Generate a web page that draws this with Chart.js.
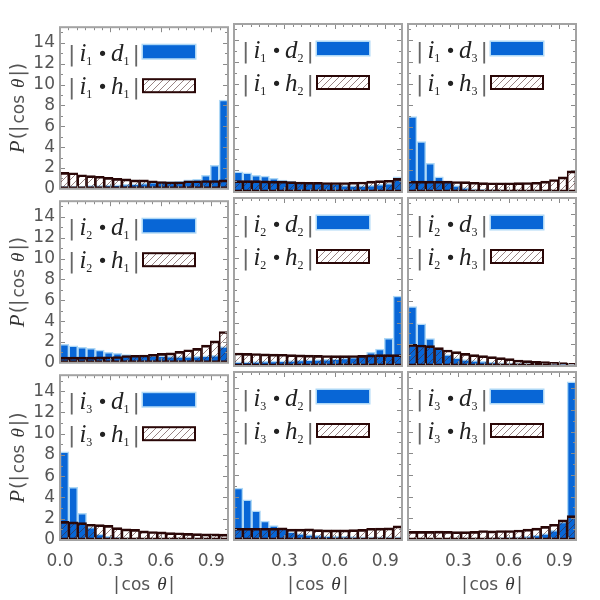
<!DOCTYPE html>
<html>
<head>
<meta charset="utf-8">
<script src="https://cdn.jsdelivr.net/npm/chart.js@4.4.1/dist/chart.umd.min.js"></script>
<style>
  html, body { margin: 0; padding: 0; background: #fff; }
  #wrap { position: relative; width: 600px; height: 600px; overflow: hidden; }
  #wrap canvas { position: absolute; }
</style>
</head>
<body>
<div id="wrap"></div>
<script>
// bin edges of |cos theta| (19 bins over 0..1)
const binEdges = [0.000, 0.053, 0.105, 0.158, 0.211, 0.263, 0.316, 0.368, 0.421, 0.474,
                  0.526, 0.579, 0.632, 0.684, 0.737, 0.789, 0.842, 0.895, 0.947, 1.000];
const xTicks = [0.0, 0.3, 0.6, 0.9];
const yTicks = [0, 2, 4, 6, 8, 10, 12, 14];

// P(|i_n . d_m|) (blue) and P(|i_n . h_m|) (hatched)
const i1d1 = [0.25, 0.25, 0.27, 0.3, 0.32, 0.35, 0.38, 0.42, 0.48, 0.52, 0.62, 0.66, 0.7, 0.72, 0.85, 0.9, 1.3, 2.25, 8.5];
const i1h1 = [1.57, 1.54, 1.35, 1.26, 1.2, 1.1, 1.0, 0.95, 0.86, 0.86, 0.77, 0.7, 0.68, 0.68, 0.77, 0.77, 0.8, 0.8, 0.86];
const i1d2 = [1.85, 1.78, 1.54, 1.48, 1.25, 1.1, 1.0, 0.9, 0.88, 0.85, 0.8, 0.75, 0.62, 0.6, 0.6, 0.62, 0.7, 0.8, 1.4];
const i1h2 = [1.05, 1.05, 1.05, 1.03, 1.0, 1.0, 0.95, 0.92, 0.9, 0.9, 0.88, 0.88, 0.88, 0.9, 0.92, 1.0, 1.05, 1.08, 1.25];
const i1d3 = [6.95, 4.65, 2.65, 1.4, 0.95, 0.6, 0.4, 0.3, 0.25, 0.22, 0.2, 0.18, 0.17, 0.15, 0.15, 0.14, 0.13, 0.12, 0.12];
const i1h3 = [1.0, 1.0, 1.0, 1.0, 1.0, 0.97, 0.95, 0.9, 0.87, 0.85, 0.85, 0.85, 0.87, 0.88, 0.9, 1.0, 1.15, 1.4, 1.95];

const i2d1 = [1.78, 1.63, 1.48, 1.38, 1.23, 1.01, 0.92, 0.78, 0.75, 0.72, 0.7, 0.66, 0.62, 0.6, 0.6, 0.62, 0.68, 0.72, 1.55];
const i2h1 = [0.55, 0.55, 0.55, 0.55, 0.57, 0.58, 0.6, 0.7, 0.72, 0.75, 0.82, 0.9, 0.95, 1.1, 1.25, 1.38, 1.7, 2.1, 3.0];
const i2d2 = [0.38, 0.38, 0.4, 0.42, 0.45, 0.48, 0.5, 0.55, 0.58, 0.6, 0.62, 0.65, 0.72, 0.8, 0.95, 1.25, 1.57, 2.55, 6.45];
const i2h2 = [1.2, 1.17, 1.15, 1.12, 1.1, 1.08, 1.05, 1.02, 1.0, 0.98, 0.97, 0.96, 0.96, 0.97, 0.98, 1.02, 1.05, 1.05, 1.05];
const i2d3 = [5.48, 3.88, 2.52, 1.6, 1.05, 0.75, 0.6, 0.5, 0.42, 0.36, 0.3, 0.27, 0.24, 0.22, 0.2, 0.18, 0.17, 0.15, 0.14];
const i2h3 = [2.0, 1.94, 1.88, 1.69, 1.48, 1.32, 1.17, 1.05, 0.95, 0.86, 0.77, 0.68, 0.55, 0.49, 0.43, 0.4, 0.34, 0.31, 0.25];

const i3d1 = [8.3, 4.95, 2.5, 1.2, 0.55, 0.35, 0.25, 0.2, 0.18, 0.15, 0.13, 0.12, 0.1, 0.1, 0.1, 0.09, 0.09, 0.08, 0.08];
const i3h1 = [1.75, 1.7, 1.63, 1.48, 1.45, 1.38, 1.17, 1.05, 1.0, 0.86, 0.8, 0.77, 0.7, 0.68, 0.62, 0.6, 0.58, 0.57, 0.56];
const i3d2 = [4.8, 3.7, 2.68, 1.75, 1.32, 1.05, 0.75, 0.6, 0.5, 0.42, 0.38, 0.35, 0.33, 0.32, 0.3, 0.3, 0.3, 0.3, 0.3];
const i3h2 = [1.08, 1.08, 1.08, 1.08, 1.08, 1.12, 1.0, 1.0, 1.02, 0.95, 0.93, 0.93, 0.93, 0.96, 0.98, 1.08, 1.1, 1.12, 1.3];
const i3d3 = [0.15, 0.15, 0.15, 0.15, 0.15, 0.15, 0.16, 0.17, 0.18, 0.2, 0.22, 0.25, 0.3, 0.35, 0.45, 0.6, 0.9, 1.65, 14.6];
const i3h3 = [0.8, 0.8, 0.8, 0.82, 0.8, 0.78, 0.78, 0.8, 0.88, 0.84, 0.88, 0.88, 0.92, 1.0, 1.1, 1.25, 1.45, 1.85, 2.25];

const panels = [
  [{ i: 1, m: 1, d: i1d1, h: i1h1 }, { i: 1, m: 2, d: i1d2, h: i1h2 }, { i: 1, m: 3, d: i1d3, h: i1h3 }],
  [{ i: 2, m: 1, d: i2d1, h: i2h1 }, { i: 2, m: 2, d: i2d2, h: i2h2 }, { i: 2, m: 3, d: i2d3, h: i2h3 }],
  [{ i: 3, m: 1, d: i3d1, h: i3h1 }, { i: 3, m: 2, d: i3d2, h: i3h2 }, { i: 3, m: 3, d: i3d3, h: i3h3 }],
];

const binLabels = binEdges.slice(0, -1).map((e, k) => e.toFixed(3) + "-" + binEdges[k + 1].toFixed(3));

// layout of the plot boxes
const colLeft = [60, 234, 408];
const rowTop = [24, 198, 372];
const SIZE = 168;
const PAD = 12;

const BLUE = "#0866d6";
const BLUE_EDGE = "#aed8f6";
const DARK = "#2a0707";
const FRAME = "#a3a3a3";
const SANS = '"DejaVu Sans", sans-serif';
const SERIF = '"Liberation Serif", serif';

function hatchPattern() {
  const tile = document.createElement("canvas");
  tile.width = 7;
  tile.height = 7;
  const g = tile.getContext("2d");
  g.strokeStyle = "rgba(70, 35, 35, 0.7)";
  g.lineWidth = 0.8;
  g.beginPath();
  g.moveTo(-1, 8); g.lineTo(8, -1);
  g.moveTo(-1, 1); g.lineTo(1, -1);
  g.moveTo(6, 8); g.lineTo(8, 6);
  g.stroke();
  return g.createPattern(tile, "repeat");
}

// draw a run of text pieces with different fonts, starting at x
function drawPieces(ctx, pieces, x, y) {
  pieces.forEach((p) => {
    ctx.font = p.font;
    ctx.fillStyle = p.color || "#222";
    ctx.fillText(p.t, x + (p.dx || 0), y + (p.dy || 0));
    x += ctx.measureText(p.t).width + (p.dx || 0) + (p.gap || 0);
  });
  return x;
}

function piecesWidth(ctx, pieces) {
  let w = 0;
  pieces.forEach((p) => {
    ctx.font = p.font;
    w += ctx.measureText(p.t).width + (p.dx || 0) + (p.gap || 0);
  });
  return w;
}

function labelPieces(i, letter, m) {
  return [
    { t: "|", font: "22px " + SANS, color: "#666", gap: 4 },
    { t: "i", font: "italic 25px " + SERIF },
    { t: String(i), font: "12px " + SERIF, dy: 4, gap: 5 },
    { t: "\u2022", font: "18px " + SANS, dy: -1, gap: 3 },
    { t: letter, font: "italic 25px " + SERIF },
    { t: String(m), font: "12px " + SERIF, dy: 4, gap: 3 },
    { t: "|", font: "22px " + SANS, color: "#666" },
  ];
}

const cosPieces = (big) => [
  { t: "|", font: (big ? 19 : 18) + "px " + SANS, color: "#555", gap: 2 },
  { t: "cos", font: "17px " + SANS, color: "#555", gap: 7 },
  { t: "\u03b8", font: "italic 19px " + SERIF, color: "#333", gap: 2 },
  { t: "|", font: (big ? 19 : 18) + "px " + SANS, color: "#555" },
];

const panelDecor = {
  id: "panelDecor",
  afterDatasetsDraw(chart, args, opts) {
    const { ctx, chartArea: a, scales } = chart;
    const ys = scales.y, xs = scales.xt;
    ctx.save();

    // inward tick marks on all four sides
    ctx.strokeStyle = "#8a8a8a";
    ctx.lineWidth = 1;
    ctx.beginPath();
    for (let v = 1; v <= 15; v++) {
      const py = Math.round(ys.getPixelForValue(v)) + 0.5;
      const len = v % 2 === 0 ? 5 : 3;
      ctx.moveTo(a.left, py); ctx.lineTo(a.left + len, py);
      ctx.moveTo(a.right, py); ctx.lineTo(a.right - len, py);
    }
    for (let k = 1; k < 20; k++) {
      const v = k * 0.05;
      const px = Math.round(xs.getPixelForValue(v)) + 0.5;
      const len = k % 6 === 0 ? 5 : 3;
      ctx.moveTo(px, a.top); ctx.lineTo(px, a.top + len);
      ctx.moveTo(px, a.bottom); ctx.lineTo(px, a.bottom - len);
    }
    ctx.stroke();

    // frame
    ctx.strokeStyle = FRAME;
    ctx.lineWidth = 2;
    ctx.strokeRect(a.left, a.top, a.right - a.left, a.bottom - a.top);

    // legend inside the panel
    ctx.textBaseline = "alphabetic";
    ctx.textAlign = "left";
    const dsBlue = chart.data.datasets[1];
    const dsHatch = chart.data.datasets[0];
    drawPieces(ctx, labelPieces(opts.i, "d", opts.m), a.left + 8, a.top + 34);
    drawPieces(ctx, labelPieces(opts.i, "h", opts.m), a.left + 8, a.top + 67);

    const bx = a.left + 83, bw = 52, bh = 13;
    ctx.fillStyle = BLUE_EDGE;
    ctx.fillRect(bx - 1.5, a.top + 18 - 1.5, bw + 3, bh + 3);
    ctx.fillStyle = dsBlue.backgroundColor;
    ctx.fillRect(bx, a.top + 18, bw, bh);

    ctx.fillStyle = "#fff";
    ctx.fillRect(bx, a.top + 52, bw, bh);
    ctx.fillStyle = dsHatch.backgroundColor;
    ctx.fillRect(bx, a.top + 52, bw, bh);
    ctx.strokeStyle = DARK;
    ctx.lineWidth = 2;
    ctx.strokeRect(bx, a.top + 52, bw, bh);

    // axis titles
    if (opts.col === 0) {
      const yPieces = [
        { t: "P", font: "italic 21px " + SERIF, color: "#333", gap: 1 },
        { t: "(", font: "19px " + SANS, color: "#555" },
      ].concat(cosPieces(true), [{ t: ")", font: "19px " + SANS, color: "#555" }]);
      ctx.save();
      ctx.translate(24, (a.top + a.bottom) / 2);
      ctx.rotate(-Math.PI / 2);
      const w = piecesWidth(ctx, yPieces);
      drawPieces(ctx, yPieces, -w / 2, 0);
      ctx.restore();
    }
    if (opts.row === 2) {
      const xp = cosPieces(false);
      const w = piecesWidth(ctx, xp);
      drawPieces(ctx, xp, (a.left + a.right) / 2 - w / 2, a.bottom + 50);
    }
    ctx.restore();
  },
};

const wrap = document.getElementById("wrap");

panels.forEach((rowPanels, row) => {
  rowPanels.forEach((p, col) => {
    const L = colLeft[col], T = rowTop[row];
    const cLeft = col === 0 ? 0 : L - PAD;
    const cTop = T - PAD;
    const cRight = L + SIZE + PAD;
    const cBottom = row === 2 ? 600 : T + SIZE + PAD;

    const cv = document.createElement("canvas");
    cv.width = cRight - cLeft;
    cv.height = cBottom - cTop;
    cv.style.left = cLeft + "px";
    cv.style.top = cTop + "px";
    wrap.appendChild(cv);

    const pattern = hatchPattern();
    const showX = row === 2;
    const showY = col === 0;

    new Chart(cv.getContext("2d"), {
      type: "bar",
      data: {
        labels: binLabels,
        datasets: [
          {
            label: "|i" + p.i + "\u00b7h" + p.m + "|",
            data: p.h,
            order: 0,
            grouped: false,
            backgroundColor: pattern,
            borderColor: DARK,
            borderWidth: { top: 2, left: 1, right: 1, bottom: 2 },
            borderSkipped: false,
            barPercentage: 1,
            categoryPercentage: 1,
          },
          {
            label: "|i" + p.i + "\u00b7d" + p.m + "|",
            data: p.d,
            order: 1,
            grouped: false,
            backgroundColor: BLUE,
            borderColor: BLUE_EDGE,
            borderWidth: 1.5,
            borderSkipped: false,
            barPercentage: 1,
            categoryPercentage: 1,
          },
        ],
      },
      options: {
        responsive: false,
        animation: false,
        devicePixelRatio: 1,
        events: [],
        layout: {
          padding: {
            left: showY ? 0 : PAD,
            top: PAD,
            right: PAD,
            bottom: showX ? 0 : PAD,
          },
        },
        plugins: {
          legend: { display: false },
          tooltip: { enabled: false },
          panelDecor: { i: p.i, m: p.m, row: row, col: col },
        },
        scales: {
          x: { type: "category", display: false, offset: true },
          xt: {
            type: "linear",
            position: "bottom",
            min: 0,
            max: 1,
            offset: false,
            display: showX,
            grid: { display: false, drawTicks: false, offset: false },
            border: { display: false },
            afterBuildTicks: (s) => {
              s.ticks = (col === 0 ? xTicks : xTicks.slice(1)).map((v) => ({ value: v }));
            },
            afterFit: (s) => { if (showX) s.height = 60; },
            ticks: {
              autoSkip: false,
              maxRotation: 0,
              padding: 11,
              color: "#555",
              font: { family: SANS, size: 17 },
              callback: (v) => Number(v).toFixed(1),
            },
          },
          y: {
            min: 0,
            max: 15.5,
            display: showY,
            grid: { display: false, drawTicks: false },
            border: { display: false },
            afterBuildTicks: (s) => {
              s.ticks = yTicks.map((v) => ({ value: v }));
            },
            afterFit: (s) => { if (showY) s.width = 60; },
            ticks: {
              padding: 5,
              color: "#555",
              font: { family: SANS, size: 17 },
            },
          },
        },
      },
      plugins: [panelDecor],
    });
  });
});
</script>
</body>
</html>
